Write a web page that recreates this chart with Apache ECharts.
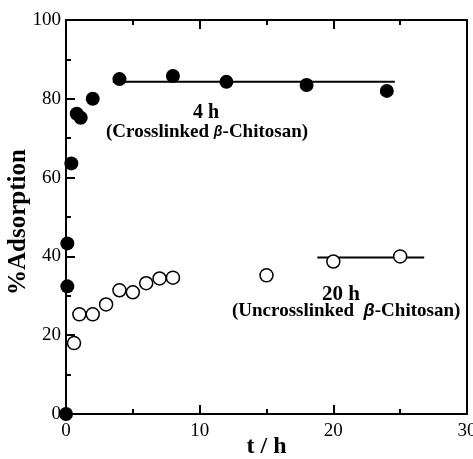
<!DOCTYPE html>
<html>
<head>
<meta charset="utf-8">
<script src="https://cdn.jsdelivr.net/npm/echarts@6/dist/echarts.min.js"></script>
<style>
  html, body { margin: 0; padding: 0; background: #fff; }
  #chart { width: 473px; height: 459px; }
</style>
</head>
<body>
<div id="chart"></div>
<script>
// crosslinked beta-chitosan (filled dots)
var crossT = [0, 0.1, 0.1, 0.4, 0.8, 1.1, 2, 4, 8, 12, 18, 24];
var crossY = [0, 32.4, 43.3, 63.6, 76.2, 75.2, 80, 85, 85.8, 84.3, 83.5, 82];
// uncrosslinked beta-chitosan (open circles)
var uncrossT = [0.6, 1, 2, 3, 4, 5, 6, 7, 8, 15, 20, 25];
var uncrossY = [18, 25.3, 25.3, 27.8, 31.4, 30.9, 33.2, 34.4, 34.6, 35.2, 38.7, 40];
// equilibrium lines
var crossLine = [[3.5, 84.3], [24.6, 84.3]];
var uncrossLine = [[18.8, 39.7], [26.8, 39.7]];

var serif = 'Liberation Serif';

function pairs(xs, ys) {
  return xs.map(function (x, i) { return [x, ys[i]]; });
}

var myChart = echarts.init(document.getElementById('chart'));
var axisCommon = {
  axisLine: { show: true, onZero: false, lineStyle: { color: '#000', width: 2 } },
  axisTick: { inside: true, length: 9, lineStyle: { color: '#000', width: 2 } },
  minorTick: { show: true, splitNumber: 2, length: 5, lineStyle: { color: '#000', width: 2 } },
  splitLine: { show: false }
};
var option = {
  animation: false,
  grid: { left: 66, top: 20, right: 6, bottom: 45, containLabel: false, outerBoundsMode: 'none' },
  xAxis: [
    Object.assign({
      type: 'value', min: 0, max: 30, interval: 10, position: 'bottom',
      name: 't / h', nameLocation: 'middle', nameGap: 21, nameMoveOverlap: false,
      nameTextStyle: { fontFamily: serif, fontWeight: 'bold', fontSize: 24, color: '#000' },
      axisLabel: { fontFamily: serif, fontSize: 19, color: '#000', margin: 8 }
    }, axisCommon),
    Object.assign({
      type: 'value', min: 0, max: 30, interval: 10, position: 'top',
      axisLabel: { show: false }
    }, axisCommon)
  ],
  yAxis: [
    Object.assign({
      type: 'value', min: 0, max: 100, interval: 20, position: 'left',
      name: '%Adsorption', nameLocation: 'middle', nameGap: 35, nameRotate: 90, nameMoveOverlap: false,
      nameTextStyle: { fontFamily: serif, fontWeight: 'bold', fontSize: 25, color: '#000', padding: [0, 10, 0, 0] },
      axisLabel: { fontFamily: serif, fontSize: 19, color: '#000', margin: 5 }
    }, axisCommon),
    {
      type: 'value', min: 0, max: 100, interval: 20, position: 'right',
      axisLine: { show: true, onZero: false, lineStyle: { color: '#000', width: 2 } },
      axisTick: { show: false }, axisLabel: { show: false }, splitLine: { show: false }
    }
  ],
  series: [
    {
      type: 'line', data: crossLine, symbol: 'none', clip: false,
      lineStyle: { color: '#000', width: 2 }, z: 2
    },
    {
      type: 'line', data: uncrossLine, symbol: 'none', clip: false,
      lineStyle: { color: '#000', width: 2 }, z: 2
    },
    {
      type: 'scatter', data: pairs(crossT, crossY), symbol: 'circle', symbolSize: 14, clip: false,
      itemStyle: { color: '#000', opacity: 1 }, z: 3
    },
    {
      type: 'scatter', data: pairs(uncrossT, uncrossY), symbol: 'circle', symbolSize: 13, clip: false,
      itemStyle: { color: '#fff', borderColor: '#000', borderWidth: 1.5, opacity: 1 }, z: 3
    }
  ],
  graphic: [
    {
      type: 'text', left: 193, top: 103,
      style: { text: '4 h', font: 'bold 20px "Liberation Serif"', fill: '#000' }
    },
    {
      type: 'text', left: 106, top: 123,
      style: {
        text: '(Crosslinked {b|β}-Chitosan)',
        font: 'bold 19px "Liberation Serif"', fill: '#000',
        rich: { b: { fontFamily: 'Liberation Sans', fontStyle: 'italic', fontWeight: 'bold', fontSize: 14 } }
      }
    },
    {
      type: 'text', left: 322, top: 284,
      style: { text: '20 h', font: 'bold 21px "Liberation Serif"', fill: '#000' }
    },
    {
      type: 'text', left: 232, top: 302,
      style: {
        text: '(Uncrosslinked  {b|β}-Chitosan)',
        font: 'bold 19px "Liberation Serif"', fill: '#000',
        rich: { b: { fontFamily: 'Liberation Sans', fontStyle: 'italic', fontWeight: 'bold', fontSize: 18 } }
      }
    }
  ]
};
myChart.setOption(option);
</script>
</body>
</html>
